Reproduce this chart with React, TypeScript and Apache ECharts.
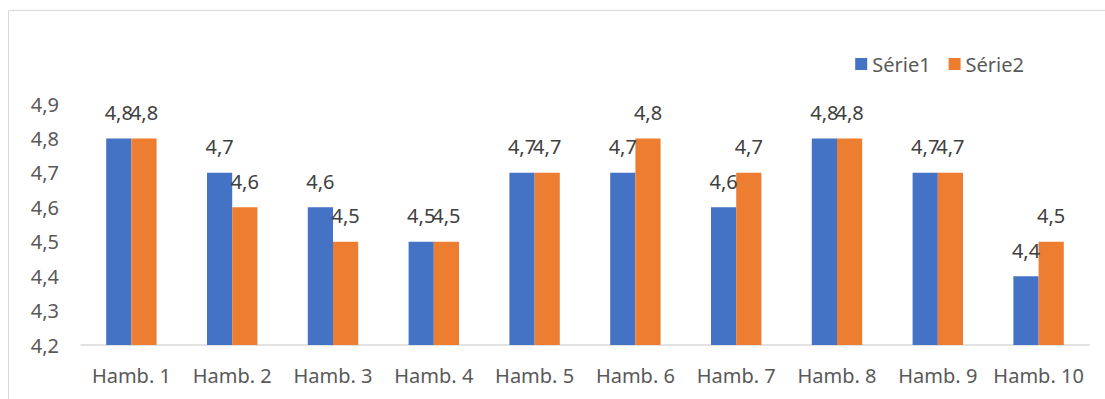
import React, { useEffect, useRef } from "react";
import * as echarts from "echarts";

const categories = ["Hamb. 1", "Hamb. 2", "Hamb. 3", "Hamb. 4", "Hamb. 5", "Hamb. 6", "Hamb. 7", "Hamb. 8", "Hamb. 9", "Hamb. 10"];
const serie1 = [4.8, 4.7, 4.6, 4.5, 4.7, 4.7, 4.6, 4.8, 4.7, 4.4];
const serie2 = [4.8, 4.6, 4.5, 4.5, 4.7, 4.8, 4.7, 4.8, 4.7, 4.5];
const seriesNames = ["Série1", "Série2"];
const yMin = 4.2;
const yMax = 4.9;
const yStep = 0.1;

const FONT = "'Noto Sans', sans-serif";
const fmt = (v: number) => v.toFixed(1).replace(".", ",");

export default function App() {
  const ref = useRef<HTMLDivElement>(null);
  useEffect(() => {
    if (!ref.current) return;
    const chart = echarts.init(ref.current, undefined, { renderer: "svg" });
    const label = {
      show: true,
      position: "top" as const,
      distance: 16,
      color: "#404040",
      fontFamily: FONT,
      fontSize: 20,
      formatter: (p: any) => fmt(p.value),
    };
    chart.setOption({
      animation: false,
      backgroundColor: "#ffffff",
      graphic: [
        {
          type: "rect",
          shape: { x: 8.5, y: 10.5, width: 1120, height: 420 },
          style: { fill: "none", stroke: "#D9D9D9", lineWidth: 1 },
          silent: true,
        },
      ],
      legend: {
        data: seriesNames,
        right: 76,
        top: 49,
        itemWidth: 12,
        itemHeight: 12,
        itemGap: 18,
        icon: "rect",
        textStyle: { color: "#595959", fontFamily: FONT, fontSize: 20 },
      },
      grid: { left: 81, right: 16, top: 104, bottom: 54, containLabel: false },
      xAxis: {
        type: "category",
        data: categories,
        axisLine: { show: true, lineStyle: { color: "#D9D9D9", width: 1.5 } },
        axisTick: { show: false },
        axisLabel: { interval: 0, color: "#595959", fontFamily: FONT, fontSize: 20, margin: 20 },
      },
      yAxis: {
        type: "value",
        min: yMin,
        max: yMax,
        interval: yStep,
        splitLine: { show: false },
        axisLine: { show: false },
        axisTick: { show: false },
        axisLabel: {
          color: "#595959",
          fontFamily: FONT,
          fontSize: 20,
          margin: 22,
          formatter: (v: number) => fmt(v),
        },
      },
      series: [
        {
          name: seriesNames[0],
          type: "bar",
          data: serie1,
          barGap: "0%",
          barCategoryGap: "50%",
          itemStyle: { color: "#4472C4" },
          label,
        },
        {
          name: seriesNames[1],
          type: "bar",
          data: serie2,
          barGap: "0%",
          barCategoryGap: "50%",
          itemStyle: { color: "#ED7D31" },
          label,
        },
      ],
    });
    return () => chart.dispose();
  }, []);
  return (
    <div
      ref={ref}
      style={{ position: "fixed", left: 0, top: 0, width: 1105, height: 399 }}
    />
  );
}
